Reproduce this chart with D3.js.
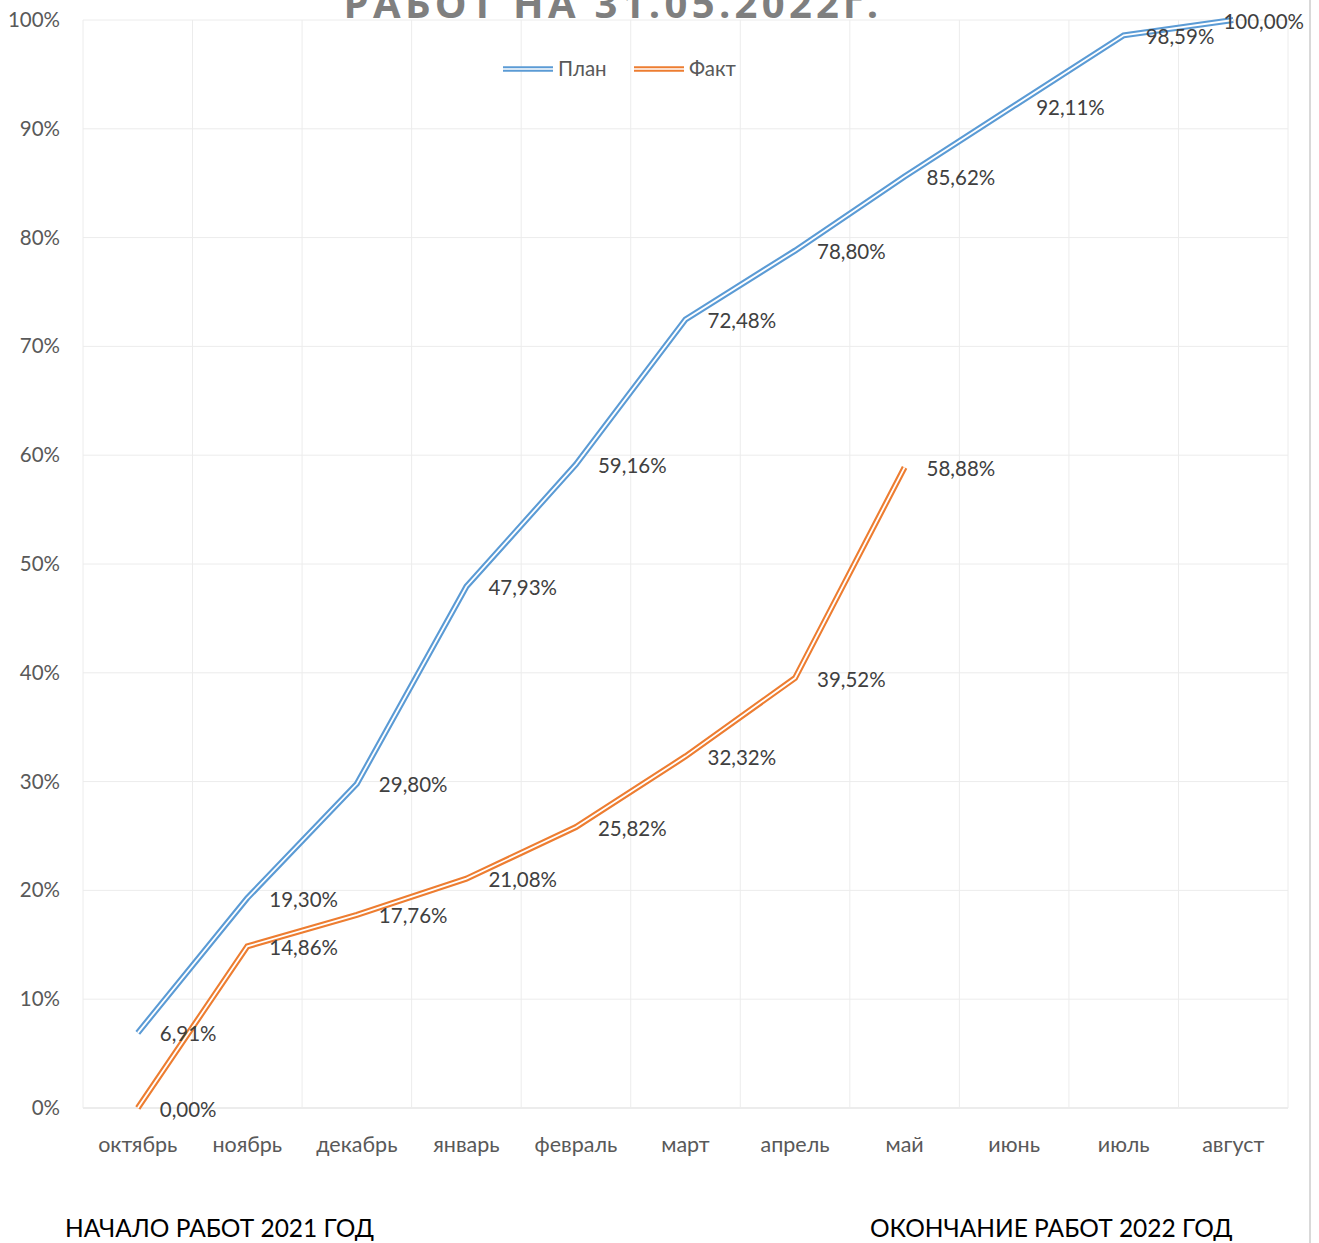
<!DOCTYPE html>
<html><head><meta charset="utf-8">
<script src="https://cdn.jsdelivr.net/npm/d3@7"></script>
<style>body{margin:0;background:#fff}svg{display:block}</style>
</head><body>
<script>
const categories = ["октябрь","ноябрь","декабрь","январь","февраль","март","апрель","май","июнь","июль","август"];
const planValues = [6.91,19.30,29.80,47.93,59.16,72.48,78.80,85.62,92.11,98.59,100.00];
const factValues = [0.00,14.86,17.76,21.08,25.82,32.32,39.52,58.88];
const yTicks = [0,10,20,30,40,50,60,70,80,90,100];
const seriesNames = ["План","Факт"];
const titleText = "РАБОТ НА 31.05.2022г.";
const footLeft = "НАЧАЛО РАБОТ 2021 ГОД";
const footRight = "ОКОНЧАНИЕ РАБОТ 2022 ГОД";

const W=1319,H=1243;
const font="Lato, 'Open Sans', sans-serif";
const svg=d3.select("body").append("svg").attr("width",W).attr("height",H);
const L=83,R=1288,T=20,B=1108;
const chartRight=1304;
const x=d3.scaleBand().domain(categories).range([L,R]);
const y=d3.scaleLinear().domain([0,100]).range([B,T]);
const colors={"План":"#5B9BD5","Факт":"#ED7D31"};

// right border
svg.append("line").attr("x1",1310).attr("x2",1310).attr("y1",0).attr("y2",H).attr("stroke","#d9d9d9").attr("stroke-width",2);

// gridlines
const g=svg.append("g");
g.selectAll(".hg").data(yTicks).join("line").attr("x1",L).attr("x2",R).attr("y1",d=>y(d)).attr("y2",d=>y(d)).attr("stroke",d=>d===0?"#d9d9d9":"#ececec").attr("stroke-width",1);
const bounds=categories.map(c=>x(c)).concat([R]);
g.selectAll(".vg").data(bounds).join("line").attr("x1",d=>d).attr("x2",d=>d).attr("y1",T).attr("y2",B).attr("stroke","#ececec").attr("stroke-width",1);

// y axis
const ya=svg.append("g").attr("transform",`translate(${L},0)`).call(d3.axisLeft(y).tickValues(yTicks).tickFormat(d=>d+"%").tickSize(0).tickPadding(23));
ya.select(".domain").remove();
ya.selectAll("text").attr("font-family",font).attr("font-size",20.5).attr("fill","#595959");
// x axis
const xa=svg.append("g").attr("transform",`translate(0,${B})`).call(d3.axisBottom(x).tickSize(0).tickPadding(29));
xa.select(".domain").remove();
xa.selectAll("text").attr("font-family",font).attr("font-size",21.5).attr("fill","#595959");

// title
svg.append("text").attr("x",613).attr("y",18).attr("text-anchor","middle").attr("font-family","'Open Sans', sans-serif").attr("font-weight","bold").attr("font-size",40).attr("letter-spacing",4.3).attr("fill","#7f7f7f").text(titleText);

// lines
const line=d3.line().x((d,i)=>x(categories[i])+x.bandwidth()/2).y(d=>y(d));
function drawSeries(vals,col){
  svg.append("path").datum(vals).attr("d",line).attr("fill","none").attr("stroke",col).attr("stroke-width",6).attr("stroke-linejoin","miter");
  svg.append("path").datum(vals).attr("d",line).attr("fill","none").attr("stroke","#fff").attr("stroke-width",1.8).attr("stroke-linejoin","miter");
}
drawSeries(planValues,colors["План"]);
drawSeries(factValues,colors["Факт"]);

// labels
const fmt=v=>v.toFixed(2).replace(".",",")+"%";
function labels(vals){
  svg.append("g").selectAll("text").data(vals).join("text")
   .attr("x",(d,i)=>x(categories[i])+x.bandwidth()/2+22).attr("y",d=>y(d)+1.5).attr("dy","0.35em")
   .attr("font-family",font).attr("font-size",20.5).attr("fill","#404040").text(fmt)
   .each(function(){
     const w=this.getComputedTextLength();
     const cx=+this.getAttribute("x");
     if(cx+w>chartRight) this.setAttribute("x",chartRight-w);
   });
}
labels(planValues);labels(factValues);

// legend
const legX=[503,634];
seriesNames.forEach((n,i)=>{
  const lg=svg.append("g");
  lg.append("line").attr("x1",legX[i]).attr("x2",legX[i]+50).attr("y1",69).attr("y2",69).attr("stroke",colors[n]).attr("stroke-width",5.5);
  lg.append("line").attr("x1",legX[i]).attr("x2",legX[i]+50).attr("y1",69).attr("y2",69).attr("stroke","#fff").attr("stroke-width",1.6);
  lg.append("text").attr("x",legX[i]+55).attr("y",69).attr("dy","0.35em").attr("font-family",font).attr("font-size",20.5).attr("fill","#595959").text(n);
});

// footer
svg.append("text").attr("x",65).attr("y",1237).attr("font-family",font).attr("font-size",24.5).attr("fill","#000").text(footLeft);
svg.append("text").attr("x",870).attr("y",1237).attr("font-family",font).attr("font-size",24.5).attr("fill","#000").text(footRight);
</script>
</body></html>
